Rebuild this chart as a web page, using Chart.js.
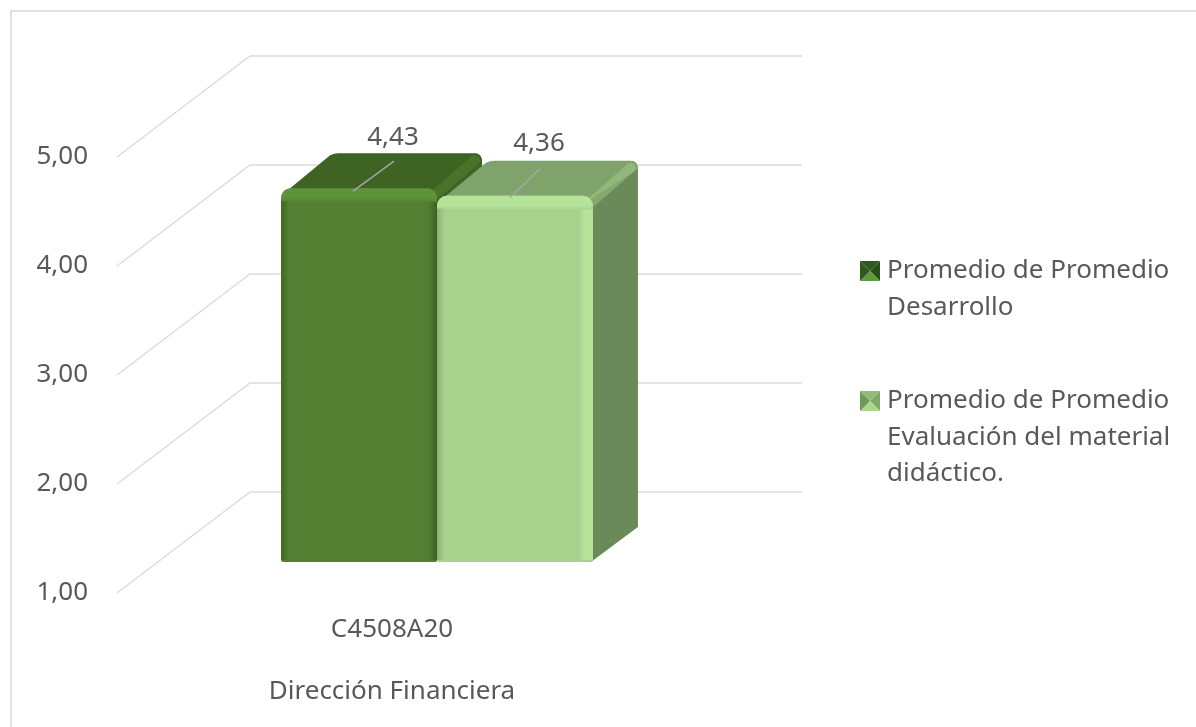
<!DOCTYPE html>
<html>
<head>
<meta charset="utf-8">
<style>
  html, body { margin: 0; padding: 0; background: #fff; overflow: hidden; }
  #wrap { width: 1196px; height: 727px; }
  canvas { filter: blur(0.7px); }
</style>
<script src="https://cdn.jsdelivr.net/npm/chart.js@4"></script>
</head>
<body>
<div id="wrap"><canvas id="chart" width="1196" height="727"></canvas></div>
<script>
const categories = [["C4508A20", "Dirección Financiera"]];
const seriesNames = [
  ["Promedio de Promedio", "Desarrollo"],
  ["Promedio de Promedio", "Evaluación del material", "didáctico."],
];
const desarrollo = [4.43];
const evaluacion = [4.36];
const tickValues = [1, 2, 3, 4, 5];
const axisFloor = 1;

const fontFamily = "'Noto Sans', sans-serif";
const textColor = "#595959";
const gridColor = "#dcdcdc";

// front face, top face, side face, bright edge
const palette = [
  { front: "#537f32", top: "#3f6322", side: "#3f6322", edge: "#5d9339", dark: "#3d6a22" },
  { front: "#a9d18e", top: "#7fa36a", side: "#6b8a59", edge: "#b6e39a", dark: "#8db274" },
];

// 3D look: the bars stand this far in from the axis front, and are this deep
const barShift = { x: 45, y: -31 };
const barDepth = { x: 45, y: -35 };
const wallDepth = { x: 133, y: -101 };
const labelOffset = [
  { x: 34, y: -52, lx0: -6, ly0: 3, lx1: 35, ly1: -27 },
  { x: 24, y: -53, lx0: -5, ly0: 2, lx1: 25, ly1: -27 },
];

function fmt(v) {
  return v.toFixed(2).replace(".", ",");
}

function drawFrame(ctx) {
  ctx.strokeStyle = "#e0e0e0";
  ctx.lineWidth = 2;
  ctx.beginPath();
  ctx.moveTo(11, 727);
  ctx.lineTo(11, 11);
  ctx.lineTo(1196, 11);
  ctx.stroke();
}

function drawWalls(chart) {
  const { ctx, chartArea, scales } = chart;
  ctx.strokeStyle = gridColor;
  ctx.lineWidth = 1.5;
  tickValues.forEach((v) => {
    const y = scales.y.getPixelForValue(v);
    ctx.beginPath();
    ctx.moveTo(chartArea.left, y);
    ctx.lineTo(chartArea.left + wallDepth.x, y + wallDepth.y);
    ctx.lineTo(chartArea.right + wallDepth.x + 2, y + wallDepth.y);
    ctx.stroke();
  });
}

function drawBar(chart, index) {
  const { ctx } = chart;
  const meta = chart.getDatasetMeta(index);
  const bar = meta.data[0];
  const c = palette[index];
  const l = bar.x - bar.width / 2;
  const r = bar.x + bar.width / 2;
  const t = bar.y;
  const b = bar.base;
  const dx = barDepth.x;
  const dy = barDepth.y;

  ctx.save();
  ctx.translate(barShift.x, barShift.y);

  // side face
  ctx.fillStyle = c.side;
  ctx.beginPath();
  ctx.moveTo(r - 3, t + 2);
  ctx.lineTo(r + dx - 8, t + dy);
  ctx.quadraticCurveTo(r + dx, t + dy, r + dx, t + dy + 9);
  ctx.lineTo(r + dx, b + dy);
  ctx.lineTo(r - 2, b);
  ctx.closePath();
  ctx.fill();

  // top face
  ctx.fillStyle = c.top;
  ctx.beginPath();
  ctx.moveTo(l + 3, t + 5);
  ctx.lineTo(l + dx + 4, t + dy + 2);
  ctx.quadraticCurveTo(l + dx + 8, t + dy, l + dx + 12, t + dy);
  ctx.lineTo(r + dx - 8, t + dy);
  ctx.quadraticCurveTo(r + dx, t + dy, r + dx, t + dy + 8);
  ctx.lineTo(r - 3, t + 4);
  ctx.closePath();
  ctx.fill();

  // soft ridge between top and side
  ctx.strokeStyle = c.edge + "55";
  ctx.lineWidth = 10;
  ctx.lineCap = "round";
  ctx.beginPath();
  ctx.moveTo(r - 1, t + 6);
  ctx.lineTo(r + dx - 7, t + dy + 7);
  ctx.stroke();

  // front face comes from the library's bar element
  meta.controller.draw();

  // bevels on the front face
  let g = ctx.createLinearGradient(0, t, 0, t + 15);
  g.addColorStop(0, c.edge);
  g.addColorStop(0.6, c.edge);
  g.addColorStop(1, c.front);
  ctx.fillStyle = g;
  ctx.beginPath();
  ctx.roundRect(l, t, bar.width, 15, [10, 10, 0, 0]);
  ctx.fill();

  g = ctx.createLinearGradient(r - 14, 0, r, 0);
  g.addColorStop(0, c.front);
  g.addColorStop(0.4, index ? c.edge : "#4f7d31");
  g.addColorStop(0.85, index ? c.edge : "#3f6a25");
  g.addColorStop(1, index ? c.edge : "#3a5f20");
  ctx.fillStyle = g;
  ctx.fillRect(r - 14, t + 14, 14, b - t - 16);

  g = ctx.createLinearGradient(l, 0, l + 8, 0);
  g.addColorStop(0, c.dark);
  g.addColorStop(1, c.front);
  ctx.fillStyle = g;
  ctx.fillRect(l, t + 13, 8, b - t - 15);

  ctx.restore();
}

function drawLabels(chart) {
  const { ctx } = chart;
  const series = [desarrollo, evaluacion];
  series.forEach((values, i) => {
    const bar = chart.getDatasetMeta(i).data[0];
    const o = labelOffset[i];
    const x = bar.x + barShift.x;
    const y = bar.y + barShift.y;
    ctx.strokeStyle = "#a6a6a6";
    ctx.lineWidth = 1.5;
    ctx.beginPath();
    ctx.moveTo(x + o.lx0, y + o.ly0);
    ctx.lineTo(x + o.lx1, y + o.ly1);
    ctx.stroke();
    ctx.fillStyle = textColor;
    ctx.font = "26px " + fontFamily;
    ctx.textAlign = "center";
    ctx.textBaseline = "middle";
    ctx.fillText(fmt(values[0]), x + o.x, y + o.y + 1);
  });
}

function drawLegendIcon(ctx, x, y, s, i) {
  const colors = i
    ? ["#8fbd75", "#7ea868", "#a9d88c", "#6f9a5a"]
    : ["#2f5a1c", "#2b4f18", "#5c9a3e", "#33561e"];
  const m = s / 2;
  const tri = [
    [[0, 0], [s, 0]],
    [[s, 0], [s, s]],
    [[s, s], [0, s]],
    [[0, s], [0, 0]],
  ];
  tri.forEach((p, k) => {
    ctx.fillStyle = colors[k];
    ctx.beginPath();
    ctx.moveTo(x + p[0][0], y + p[0][1]);
    ctx.lineTo(x + p[1][0], y + p[1][1]);
    ctx.lineTo(x + m, y + m);
    ctx.closePath();
    ctx.fill();
  });
}

function drawLegend(chart) {
  const { ctx } = chart;
  const tops = [271, 401];
  ctx.fillStyle = textColor;
  ctx.textAlign = "left";
  ctx.textBaseline = "middle";
  ctx.font = "26px " + fontFamily;
  seriesNames.forEach((lines, i) => {
    drawLegendIcon(ctx, 860, tops[i] - 10, 20, i);
    ctx.fillStyle = textColor;
    lines.forEach((line, k) => {
      ctx.fillText(line, 887, tops[i] + k * 36.5);
    });
  });
}

const barsIn3d = {
  id: "barsIn3d",
  beforeDatasetsDraw(chart) {
    drawFrame(chart.ctx);
    drawWalls(chart);
    drawBar(chart, 0);
    drawBar(chart, 1);
    drawLabels(chart);
    drawLegend(chart);
    return false;
  },
};

new Chart(document.getElementById("chart"), {
  type: "bar",
  data: {
    labels: categories,
    datasets: [
      {
        label: seriesNames[0].join(" "),
        data: desarrollo,
        base: axisFloor,
        backgroundColor: palette[0].front,
        borderRadius: { topLeft: 10, topRight: 10, bottomLeft: 2, bottomRight: 2 },
        borderSkipped: false,
      },
      {
        label: seriesNames[1].join(" "),
        data: evaluacion,
        base: axisFloor,
        backgroundColor: palette[1].front,
        borderRadius: { topLeft: 10, topRight: 10, bottomLeft: 2, bottomRight: 2 },
        borderSkipped: false,
      },
    ],
  },
  options: {
    responsive: false,
    animation: false,
    layout: { padding: { top: 157, right: 529, left: 0, bottom: 0 } },
    plugins: {
      legend: { display: false },
      tooltip: { enabled: false },
    },
    datasets: { bar: { categoryPercentage: 0.567, barPercentage: 1 } },
    scales: {
      x: {
        grid: { display: false },
        border: { display: false },
        afterFit(scale) {
          scale.height = 134;
        },
        ticks: {
          color: textColor,
          padding: -2,
          maxRotation: 0,
          font: { family: fontFamily, size: 26, lineHeight: 2.38 },
        },
      },
      y: {
        min: axisFloor,
        max: 5,
        grid: { display: false },
        border: { display: false },
        afterFit(scale) {
          scale.width = 117;
        },
        ticks: {
          stepSize: 1,
          color: textColor,
          padding: 21,
          font: { family: fontFamily, size: 26 },
          callback: (v) => fmt(v),
        },
      },
    },
  },
  plugins: [barsIn3d],
});
</script>
</body>
</html>
